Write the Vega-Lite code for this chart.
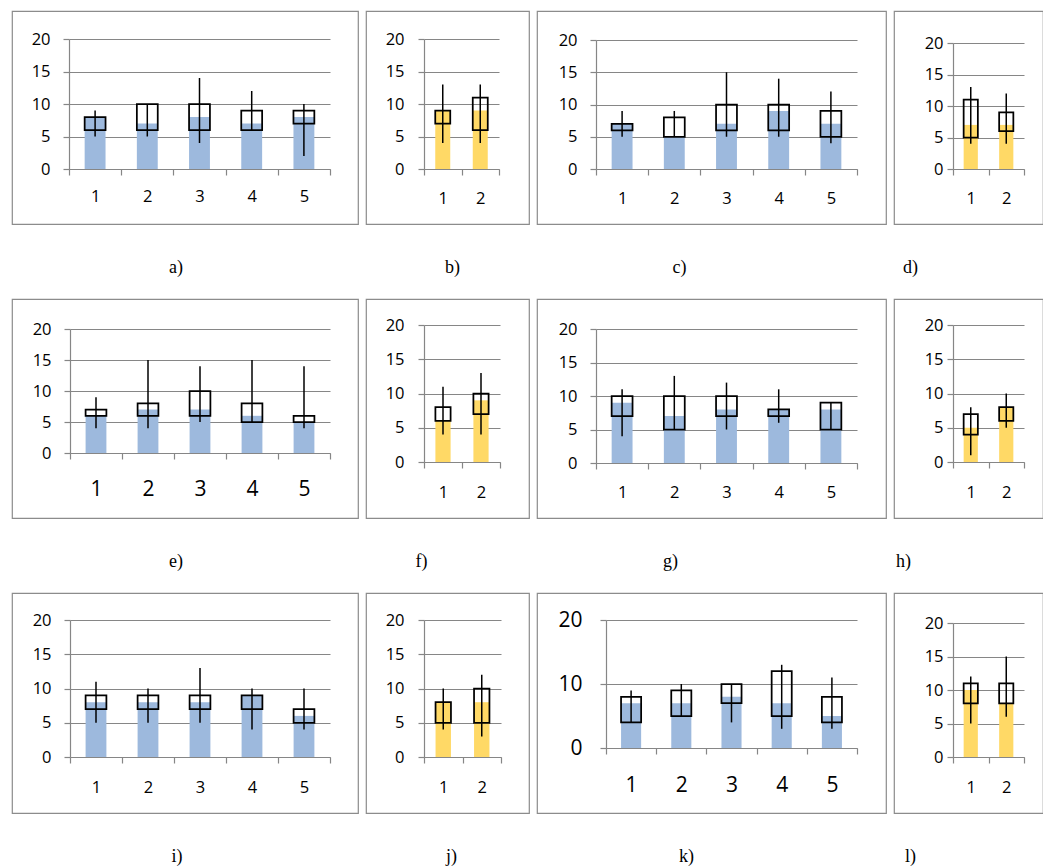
{
  "$schema": "https://vega.github.io/schema/vega-lite/v6.json",
  "background": "white",
  "padding": {"left": 11, "top": 10, "right": 0, "bottom": 0},
  "data": {"values": [
    {"panel": "a", "item": 1, "bar": 8, "lo": 6, "hi": 8, "min": 5, "max": 9},
    {"panel": "a", "item": 2, "bar": 7, "lo": 6, "hi": 10, "min": 5, "max": 10},
    {"panel": "a", "item": 3, "bar": 8, "lo": 6, "hi": 10, "min": 4, "max": 14},
    {"panel": "a", "item": 4, "bar": 7, "lo": 6, "hi": 9, "min": 6, "max": 12},
    {"panel": "a", "item": 5, "bar": 8, "lo": 7, "hi": 9, "min": 2, "max": 10},
    {"panel": "b", "item": 1, "bar": 9, "lo": 7, "hi": 9, "min": 4, "max": 13},
    {"panel": "b", "item": 2, "bar": 9, "lo": 6, "hi": 11, "min": 4, "max": 13},
    {"panel": "c", "item": 1, "bar": 7, "lo": 6, "hi": 7, "min": 5, "max": 9},
    {"panel": "c", "item": 2, "bar": 5, "lo": 5, "hi": 8, "min": 5, "max": 9},
    {"panel": "c", "item": 3, "bar": 7, "lo": 6, "hi": 10, "min": 5, "max": 15},
    {"panel": "c", "item": 4, "bar": 9, "lo": 6, "hi": 10, "min": 5, "max": 14},
    {"panel": "c", "item": 5, "bar": 7, "lo": 5, "hi": 9, "min": 4, "max": 12},
    {"panel": "d", "item": 1, "bar": 7, "lo": 5, "hi": 11, "min": 4, "max": 13},
    {"panel": "d", "item": 2, "bar": 7, "lo": 6, "hi": 9, "min": 4, "max": 12},
    {"panel": "e", "item": 1, "bar": 6, "lo": 6, "hi": 7, "min": 4, "max": 9},
    {"panel": "e", "item": 2, "bar": 7, "lo": 6, "hi": 8, "min": 4, "max": 15},
    {"panel": "e", "item": 3, "bar": 7, "lo": 6, "hi": 10, "min": 5, "max": 14},
    {"panel": "e", "item": 4, "bar": 6, "lo": 5, "hi": 8, "min": 5, "max": 15},
    {"panel": "e", "item": 5, "bar": 5, "lo": 5, "hi": 6, "min": 4, "max": 14},
    {"panel": "f", "item": 1, "bar": 6, "lo": 6, "hi": 8, "min": 4, "max": 11},
    {"panel": "f", "item": 2, "bar": 9, "lo": 7, "hi": 10, "min": 4, "max": 13},
    {"panel": "g", "item": 1, "bar": 9, "lo": 7, "hi": 10, "min": 4, "max": 11},
    {"panel": "g", "item": 2, "bar": 7, "lo": 5, "hi": 10, "min": 5, "max": 13},
    {"panel": "g", "item": 3, "bar": 8, "lo": 7, "hi": 10, "min": 5, "max": 12},
    {"panel": "g", "item": 4, "bar": 8, "lo": 7, "hi": 8, "min": 6, "max": 11},
    {"panel": "g", "item": 5, "bar": 8, "lo": 5, "hi": 9, "min": 5, "max": 9},
    {"panel": "h", "item": 1, "bar": 5, "lo": 4, "hi": 7, "min": 1, "max": 8},
    {"panel": "h", "item": 2, "bar": 8, "lo": 6, "hi": 8, "min": 5, "max": 10},
    {"panel": "i", "item": 1, "bar": 8, "lo": 7, "hi": 9, "min": 5, "max": 11},
    {"panel": "i", "item": 2, "bar": 8, "lo": 7, "hi": 9, "min": 5, "max": 10},
    {"panel": "i", "item": 3, "bar": 8, "lo": 7, "hi": 9, "min": 5, "max": 13},
    {"panel": "i", "item": 4, "bar": 9, "lo": 7, "hi": 9, "min": 4, "max": 10},
    {"panel": "i", "item": 5, "bar": 6, "lo": 5, "hi": 7, "min": 4, "max": 10},
    {"panel": "j", "item": 1, "bar": 8, "lo": 5, "hi": 8, "min": 4, "max": 10},
    {"panel": "j", "item": 2, "bar": 8, "lo": 5, "hi": 10, "min": 3, "max": 12},
    {"panel": "k", "item": 1, "bar": 7, "lo": 4, "hi": 8, "min": 4, "max": 9},
    {"panel": "k", "item": 2, "bar": 7, "lo": 5, "hi": 9, "min": 5, "max": 10},
    {"panel": "k", "item": 3, "bar": 8, "lo": 7, "hi": 10, "min": 4, "max": 10},
    {"panel": "k", "item": 4, "bar": 7, "lo": 5, "hi": 12, "min": 3, "max": 13},
    {"panel": "k", "item": 5, "bar": 5, "lo": 4, "hi": 8, "min": 3, "max": 11},
    {"panel": "l", "item": 1, "bar": 10, "lo": 8, "hi": 11, "min": 5, "max": 12},
    {"panel": "l", "item": 2, "bar": 8, "lo": 8, "hi": 11, "min": 6, "max": 15}
  ]},
  "columns": 4,
  "spacing": {"row": 20, "column": 6},
  "concat": [
    {"width": 346, "height": 213, "transform": [{"filter": "datum.panel === 'a'"}],
     "title": {"text": "a)", "dx": -9},
     "encoding": {"x": {"field": "item", "type": "ordinal", "title": null, "scale": {"range": [57, 318], "paddingInner": 0, "paddingOuter": 0}, "axis": {"offset": -55, "labelPadding": 13}}},
     "layer": [
      {"mark": {"type": "bar", "color": "#9DB9DD", "width": {"band": 0.4}}, "encoding": {"y": {"field": "bar", "type": "quantitative", "title": null, "scale": {"domain": [0, 20], "range": [158, 28]}, "axis": {"offset": -57, "values": [0, 5, 10, 15, 20], "labelPadding": 13}}}},
      {"mark": {"type": "bar", "fill": "transparent", "stroke": "black", "strokeWidth": 1.75, "width": {"band": 0.4}}, "encoding": {"y": {"field": "lo", "type": "quantitative", "title": null}, "y2": {"field": "hi"}}},
      {"mark": {"type": "rule", "color": "black", "strokeWidth": 1.5}, "encoding": {"y": {"field": "min", "type": "quantitative", "title": null}, "y2": {"field": "max"}}}
     ]},
    {"width": 163, "height": 213, "transform": [{"filter": "datum.panel === 'b'"}],
     "title": {"text": "b)", "dx": 5},
     "encoding": {"x": {"field": "item", "type": "ordinal", "title": null, "scale": {"range": [58, 133], "paddingInner": 0, "paddingOuter": 0}, "axis": {"offset": -55, "labelPadding": 15}}},
     "layer": [
      {"mark": {"type": "bar", "color": "#FFD966", "width": {"band": 0.4}}, "encoding": {"y": {"field": "bar", "type": "quantitative", "title": null, "scale": {"domain": [0, 20], "range": [158, 28]}, "axis": {"offset": -58, "values": [0, 5, 10, 15, 20], "labelPadding": 14}}}},
      {"mark": {"type": "bar", "fill": "transparent", "stroke": "black", "strokeWidth": 1.75, "width": {"band": 0.4}}, "encoding": {"y": {"field": "lo", "type": "quantitative", "title": null}, "y2": {"field": "hi"}}},
      {"mark": {"type": "rule", "color": "black", "strokeWidth": 1.5}, "encoding": {"y": {"field": "min", "type": "quantitative", "title": null}, "y2": {"field": "max"}}}
     ]},
    {"width": 349, "height": 213, "transform": [{"filter": "datum.panel === 'c'"}],
     "title": {"text": "c)", "dx": -32},
     "encoding": {"x": {"field": "item", "type": "ordinal", "title": null, "scale": {"range": [59, 320], "paddingInner": 0, "paddingOuter": 0}, "axis": {"offset": -55, "labelPadding": 15}}},
     "layer": [
      {"mark": {"type": "bar", "color": "#9DB9DD", "width": {"band": 0.4}}, "encoding": {"y": {"field": "bar", "type": "quantitative", "title": null, "scale": {"domain": [0, 20], "range": [158, 29]}, "axis": {"offset": -59, "values": [0, 5, 10, 15, 20], "labelPadding": 13}}}},
      {"mark": {"type": "bar", "fill": "transparent", "stroke": "black", "strokeWidth": 1.75, "width": {"band": 0.4}}, "encoding": {"y": {"field": "lo", "type": "quantitative", "title": null}, "y2": {"field": "hi"}}},
      {"mark": {"type": "rule", "color": "black", "strokeWidth": 1.5}, "encoding": {"y": {"field": "min", "type": "quantitative", "title": null}, "y2": {"field": "max"}}}
     ]},
    {"width": 149, "height": 213, "transform": [{"filter": "datum.panel === 'd'"}],
     "title": {"text": "d)", "dx": -58},
     "encoding": {"x": {"field": "item", "type": "ordinal", "title": null, "scale": {"range": [59, 130], "paddingInner": 0, "paddingOuter": 0}, "axis": {"offset": -55, "labelPadding": 15}}},
     "layer": [
      {"mark": {"type": "bar", "color": "#FFD966", "width": {"band": 0.4}}, "encoding": {"y": {"field": "bar", "type": "quantitative", "title": null, "scale": {"domain": [0, 20], "range": [158, 32]}, "axis": {"offset": -59, "values": [0, 5, 10, 15, 20], "labelPadding": 4}}}},
      {"mark": {"type": "bar", "fill": "transparent", "stroke": "black", "strokeWidth": 1.75, "width": {"band": 0.4}}, "encoding": {"y": {"field": "lo", "type": "quantitative", "title": null}, "y2": {"field": "hi"}}},
      {"mark": {"type": "rule", "color": "black", "strokeWidth": 1.5}, "encoding": {"y": {"field": "min", "type": "quantitative", "title": null}, "y2": {"field": "max"}}}
     ]},
    {"width": 346, "height": 219, "transform": [{"filter": "datum.panel === 'e'"}],
     "title": {"text": "e)", "dx": -9},
     "encoding": {"x": {"field": "item", "type": "ordinal", "title": null, "scale": {"range": [58, 318], "paddingInner": 0, "paddingOuter": 0}, "axis": {"offset": -65, "labelPadding": 19, "labelFontSize": 21}}},
     "layer": [
      {"mark": {"type": "bar", "color": "#9DB9DD", "width": {"band": 0.4}}, "encoding": {"y": {"field": "bar", "type": "quantitative", "title": null, "scale": {"domain": [0, 20], "range": [154, 30]}, "axis": {"offset": -58, "values": [0, 5, 10, 15, 20], "labelPadding": 13}}}},
      {"mark": {"type": "bar", "fill": "transparent", "stroke": "black", "strokeWidth": 1.75, "width": {"band": 0.4}}, "encoding": {"y": {"field": "lo", "type": "quantitative", "title": null}, "y2": {"field": "hi"}}},
      {"mark": {"type": "rule", "color": "black", "strokeWidth": 1.5}, "encoding": {"y": {"field": "min", "type": "quantitative", "title": null}, "y2": {"field": "max"}}}
     ]},
    {"width": 163, "height": 219, "transform": [{"filter": "datum.panel === 'f'"}],
     "title": {"text": "f)", "dx": -26},
     "encoding": {"x": {"field": "item", "type": "ordinal", "title": null, "scale": {"range": [58, 134], "paddingInner": 0, "paddingOuter": 0}, "axis": {"offset": -56, "labelPadding": 16}}},
     "layer": [
      {"mark": {"type": "bar", "color": "#FFD966", "width": {"band": 0.4}}, "encoding": {"y": {"field": "bar", "type": "quantitative", "title": null, "scale": {"domain": [0, 20], "range": [163, 26]}, "axis": {"offset": -58, "values": [0, 5, 10, 15, 20], "labelPadding": 14}}}},
      {"mark": {"type": "bar", "fill": "transparent", "stroke": "black", "strokeWidth": 1.75, "width": {"band": 0.4}}, "encoding": {"y": {"field": "lo", "type": "quantitative", "title": null}, "y2": {"field": "hi"}}},
      {"mark": {"type": "rule", "color": "black", "strokeWidth": 1.5}, "encoding": {"y": {"field": "min", "type": "quantitative", "title": null}, "y2": {"field": "max"}}}
     ]},
    {"width": 349, "height": 219, "transform": [{"filter": "datum.panel === 'g'"}],
     "title": {"text": "g)", "dx": -41},
     "encoding": {"x": {"field": "item", "type": "ordinal", "title": null, "scale": {"range": [59, 320], "paddingInner": 0, "paddingOuter": 0}, "axis": {"offset": -55, "labelPadding": 15}}},
     "layer": [
      {"mark": {"type": "bar", "color": "#9DB9DD", "width": {"band": 0.4}}, "encoding": {"y": {"field": "bar", "type": "quantitative", "title": null, "scale": {"domain": [0, 20], "range": [164, 30]}, "axis": {"offset": -59, "values": [0, 5, 10, 15, 20], "labelPadding": 13}}}},
      {"mark": {"type": "bar", "fill": "transparent", "stroke": "black", "strokeWidth": 1.75, "width": {"band": 0.4}}, "encoding": {"y": {"field": "lo", "type": "quantitative", "title": null}, "y2": {"field": "hi"}}},
      {"mark": {"type": "rule", "color": "black", "strokeWidth": 1.5}, "encoding": {"y": {"field": "min", "type": "quantitative", "title": null}, "y2": {"field": "max"}}}
     ]},
    {"width": 149, "height": 219, "transform": [{"filter": "datum.panel === 'h'"}],
     "title": {"text": "h)", "dx": -65},
     "encoding": {"x": {"field": "item", "type": "ordinal", "title": null, "scale": {"range": [59, 130], "paddingInner": 0, "paddingOuter": 0}, "axis": {"offset": -56, "labelPadding": 16}}},
     "layer": [
      {"mark": {"type": "bar", "color": "#FFD966", "width": {"band": 0.4}}, "encoding": {"y": {"field": "bar", "type": "quantitative", "title": null, "scale": {"domain": [0, 20], "range": [163, 26]}, "axis": {"offset": -59, "values": [0, 5, 10, 15, 20], "labelPadding": 4}}}},
      {"mark": {"type": "bar", "fill": "transparent", "stroke": "black", "strokeWidth": 1.75, "width": {"band": 0.4}}, "encoding": {"y": {"field": "lo", "type": "quantitative", "title": null}, "y2": {"field": "hi"}}},
      {"mark": {"type": "rule", "color": "black", "strokeWidth": 1.5}, "encoding": {"y": {"field": "min", "type": "quantitative", "title": null}, "y2": {"field": "max"}}}
     ]},
    {"width": 346, "height": 220, "transform": [{"filter": "datum.panel === 'i'"}],
     "title": {"text": "i)", "dx": -8},
     "encoding": {"x": {"field": "item", "type": "ordinal", "title": null, "scale": {"range": [58, 318], "paddingInner": 0, "paddingOuter": 0}, "axis": {"offset": -56, "labelPadding": 16}}},
     "layer": [
      {"mark": {"type": "bar", "color": "#9DB9DD", "width": {"band": 0.4}}, "encoding": {"y": {"field": "bar", "type": "quantitative", "title": null, "scale": {"domain": [0, 20], "range": [164, 27]}, "axis": {"offset": -58, "values": [0, 5, 10, 15, 20], "labelPadding": 13}}}},
      {"mark": {"type": "bar", "fill": "transparent", "stroke": "black", "strokeWidth": 1.75, "width": {"band": 0.4}}, "encoding": {"y": {"field": "lo", "type": "quantitative", "title": null}, "y2": {"field": "hi"}}},
      {"mark": {"type": "rule", "color": "black", "strokeWidth": 1.5}, "encoding": {"y": {"field": "min", "type": "quantitative", "title": null}, "y2": {"field": "max"}}}
     ]},
    {"width": 163, "height": 220, "transform": [{"filter": "datum.panel === 'j'"}],
     "title": {"text": "j)", "dx": 4},
     "encoding": {"x": {"field": "item", "type": "ordinal", "title": null, "scale": {"range": [58, 135], "paddingInner": 0, "paddingOuter": 0}, "axis": {"offset": -56, "labelPadding": 16}}},
     "layer": [
      {"mark": {"type": "bar", "color": "#FFD966", "width": {"band": 0.4}}, "encoding": {"y": {"field": "bar", "type": "quantitative", "title": null, "scale": {"domain": [0, 20], "range": [164, 27]}, "axis": {"offset": -58, "values": [0, 5, 10, 15, 20], "labelPadding": 14}}}},
      {"mark": {"type": "bar", "fill": "transparent", "stroke": "black", "strokeWidth": 1.75, "width": {"band": 0.4}}, "encoding": {"y": {"field": "lo", "type": "quantitative", "title": null}, "y2": {"field": "hi"}}},
      {"mark": {"type": "rule", "color": "black", "strokeWidth": 1.5}, "encoding": {"y": {"field": "min", "type": "quantitative", "title": null}, "y2": {"field": "max"}}}
     ]},
    {"width": 349, "height": 220, "transform": [{"filter": "datum.panel === 'k'"}],
     "title": {"text": "k)", "dx": -25},
     "encoding": {"x": {"field": "item", "type": "ordinal", "title": null, "scale": {"range": [69, 320], "paddingInner": 0, "paddingOuter": 0}, "axis": {"offset": -65, "labelPadding": 20, "labelFontSize": 21}}},
     "layer": [
      {"mark": {"type": "bar", "color": "#9DB9DD", "width": {"band": 0.4}}, "encoding": {"y": {"field": "bar", "type": "quantitative", "title": null, "scale": {"domain": [0, 20], "range": [155, 27]}, "axis": {"offset": -69, "values": [0, 10, 20], "labelPadding": 18, "labelFontSize": 21}}}},
      {"mark": {"type": "bar", "fill": "transparent", "stroke": "black", "strokeWidth": 1.75, "width": {"band": 0.4}}, "encoding": {"y": {"field": "lo", "type": "quantitative", "title": null}, "y2": {"field": "hi"}}},
      {"mark": {"type": "rule", "color": "black", "strokeWidth": 1.5}, "encoding": {"y": {"field": "min", "type": "quantitative", "title": null}, "y2": {"field": "max"}}}
     ]},
    {"width": 149, "height": 220, "transform": [{"filter": "datum.panel === 'l'"}],
     "title": {"text": "l)", "dx": -58},
     "encoding": {"x": {"field": "item", "type": "ordinal", "title": null, "scale": {"range": [59, 130], "paddingInner": 0, "paddingOuter": 0}, "axis": {"offset": -56, "labelPadding": 16}}},
     "layer": [
      {"mark": {"type": "bar", "color": "#FFD966", "width": {"band": 0.4}}, "encoding": {"y": {"field": "bar", "type": "quantitative", "title": null, "scale": {"domain": [0, 20], "range": [164, 30]}, "axis": {"offset": -59, "values": [0, 5, 10, 15, 20], "labelPadding": 4}}}},
      {"mark": {"type": "bar", "fill": "transparent", "stroke": "black", "strokeWidth": 1.75, "width": {"band": 0.4}}, "encoding": {"y": {"field": "lo", "type": "quantitative", "title": null}, "y2": {"field": "hi"}}},
      {"mark": {"type": "rule", "color": "black", "strokeWidth": 1.5}, "encoding": {"y": {"field": "min", "type": "quantitative", "title": null}, "y2": {"field": "max"}}}
     ]}
  ],
  "config": {
    "view": {"stroke": "#8C8C8C", "strokeWidth": 1.2},
    "title": {"orient": "bottom", "offset": 35, "font": "Liberation Serif", "fontSize": 18, "fontWeight": "normal", "color": "#000000", "anchor": "middle"},
    "axis": {"labelFont": "Open Sans", "labelFontSize": 16.5, "labelColor": "#000000", "domainColor": "#868686", "tickColor": "#868686", "gridColor": "#868686", "gridOpacity": 1, "domainWidth": 1.2, "tickWidth": 1.2, "gridWidth": 1.2, "tickSize": 6},
    "axisX": {"grid": false, "labelAngle": 0, "tickBand": "extent"},
    "axisY": {"grid": true}
  }
}
